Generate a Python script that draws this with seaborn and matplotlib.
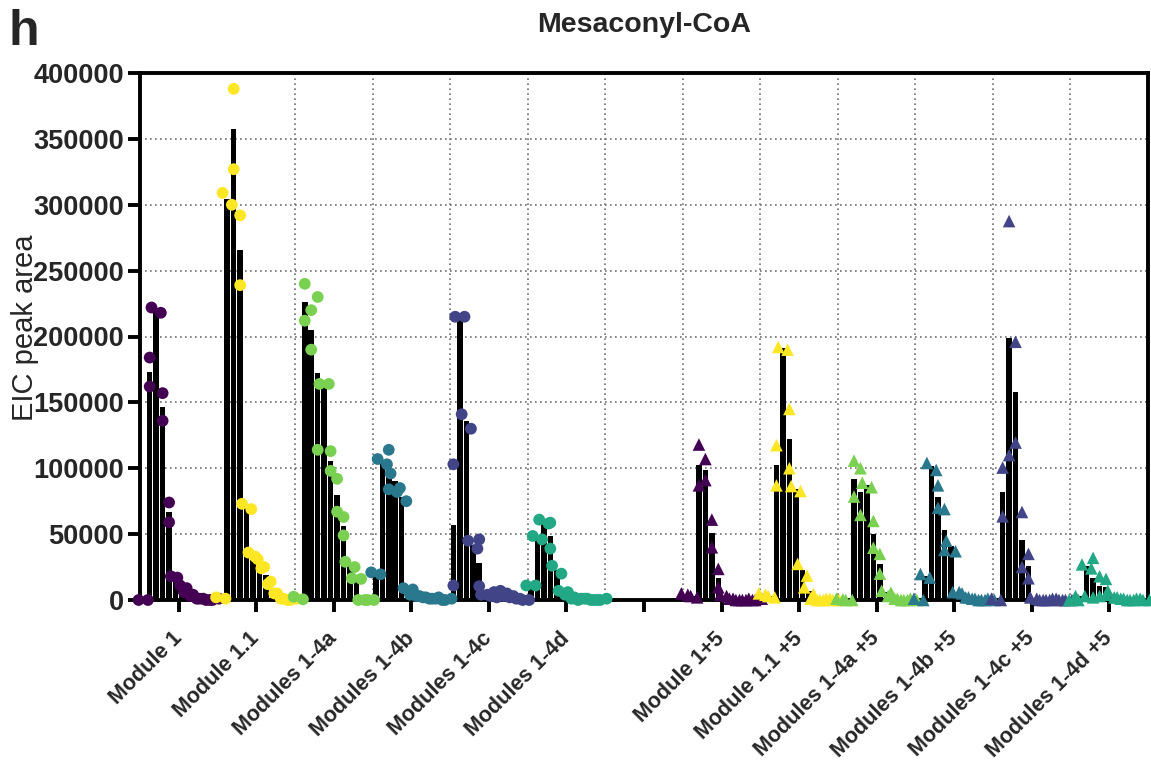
import numpy as np
import pandas as pd
import matplotlib
matplotlib.use("Agg")
import matplotlib.pyplot as plt
from matplotlib.ticker import FixedLocator
from matplotlib.transforms import ScaledTranslation
import seaborn as sns

# ---------------------------------------------------------------- data
groups = [
    "Module 1", "Module 1.1", "Modules 1-4a", "Modules 1-4b", "Modules 1-4c", "Modules 1-4d",
    "Module 1+5", "Module 1.1 +5", "Modules 1-4a +5", "Modules 1-4b +5", "Modules 1-4c +5", "Modules 1-4d +5",
]
fractions = list(range(1, 13))
yticks = [0, 50000, 100000, 150000, 200000, 250000, 300000, 350000, 400000]

# EIC peak areas per fraction, two replicate injections (a, b) per construct
module1_a = [0, 184000, 222000, 157000, 74000, 18000, 17000, 6000, 3000, 1000, 1000, 0]
module1_b = [0, 162000, 218000, 136000, 59000, 11000, 9000, 4000, 1000, 0, 0, 1000]

module11_a = [2000, 309000, 388000, 292000, 73000, 36000, 33000, 24000, 12000, 5000, 1000, 0]
module11_b = [1000, 300000, 327000, 239000, 69000, 31000, 25000, 14000, 5000, 1000, 0, 1000]

mod14a_a = [2500, 240000, 220000, 230000, 164000, 113000, 92000, 63000, 29000, 16500, 0, 0]
mod14a_b = [500, 212000, 190000, 114000, 164000, 98000, 67000, 49000, 25000, 16000, 0, 0]

mod14b_a = [21000, 107000, 114000, 96000, 82000, 9000, 4000, 3000, 2000, 1000, 1000, 0]
mod14b_b = [19500, 103000, 84000, 85000, 75000, 8000, 3000, 2000, 1000, 2000, 0, 1000]

mod14c_a = [103000, 215000, 141000, 45000, 46000, 4000, 4000, 6000, 7000, 5000, 3000, 1000]
mod14c_b = [11000, 215000, 130000, 39000, 10500, 3000, 2000, 3000, 2000, 1000, 0, 0]

mod14d_a = [11000, 48600, 61000, 58700, 26000, 7000, 4000, 1000, 0, 1000, 0, 0]
mod14d_b = [11000, 46000, 58000, 39000, 20000, 6000, 2000, 1000, 1000, 0, 0, 1000]

module1_5_a = [5000, 4000, 118000, 107000, 61000, 23600, 4000, 3000, 1000, 0, 0, 0]
module1_5_b = [3000, 2000, 87000, 91000, 40000, 9600, 1000, 0, 0, 1000, 0, 1000]

module11_5_a = [5000, 4000, 117500, 192000, 145000, 86500, 27400, 9600, 1000, 0, 0, 1000]
module11_5_b = [3000, 2000, 87000, 190000, 100000, 82700, 18500, 4600, 0, 1000, 0, 0]

mod14a_5_a = [1000, 500, 105800, 100000, 89000, 60000, 35000, 7000, 3000, 1000, 0, 0]
mod14a_5_b = [0, 0, 78500, 64600, 85600, 39700, 20000, 5600, 1000, 0, 1000, 0]

mod14b_5_a = [1000, 19700, 104000, 87000, 69000, 45000, 6000, 6000, 2000, 1000, 0, 0]
mod14b_5_b = [0, 17000, 98700, 70000, 38000, 37000, 5000, 2000, 1000, 0, 1000, 0]

mod14c_5_a = [1000, 100500, 287600, 196000, 66800, 35000, 2000, 1000, 0, 0, 1000, 0]
mod14c_5_b = [0, 63500, 110000, 119500, 25000, 16500, 0, 0, 1000, 0, 0, 0]

mod14d_5_a = [0, 3000, 27000, 32000, 18000, 16000, 7000, 2000, 1000, 0, 0, 1000]
mod14d_5_b = [0, 3000, 24000, 2000, 3000, 4000, 2000, 1000, 0, 1000, 0, 0]

replicates = [
    (module1_a, module1_b), (module11_a, module11_b), (mod14a_a, mod14a_b),
    (mod14b_a, mod14b_b), (mod14c_a, mod14c_b), (mod14d_a, mod14d_b),
    (module1_5_a, module1_5_b), (module11_5_a, module11_5_b), (mod14a_5_a, mod14a_5_b),
    (mod14b_5_a, mod14b_5_b), (mod14c_5_a, mod14c_5_b), (mod14d_5_a, mod14d_5_b),
]

# ---------------------------------------------------------------- style
viridis6 = ["#440154", "#fde725", "#7ad151", "#2a788e", "#414487", "#22a884"]
group_colors = dict(zip(groups, viridis6 + viridis6))

sns.set_theme(style="white")
plt.rcParams["font.family"] = ["Liberation Sans", "DejaVu Sans"]
plt.rcParams["xtick.bottom"] = True
plt.rcParams["ytick.left"] = True

# ---------------------------------------------------------------- layout
# Slot 6 on the categorical axis is left empty to separate the two series.
slots = [i if i < 6 else i + 1 for i in range(len(groups))]
step = 1.0 / len(fractions)
pair_dodge = 0.06           # side-by-side shift for replicates of similar value

rows = []
for name, slot, (rep_a, rep_b) in zip(groups, slots, replicates):
    for fi, frac in enumerate(fractions):
        xbar = slot + (fi - (len(fractions) - 1) / 2) * step
        a, b = rep_a[fi], rep_b[fi]
        close = abs(a - b) < 12000
        for k, v in enumerate((a, b)):
            dx = (-pair_dodge if k == 0 else pair_dodge) if close else 0.0
            rows.append(dict(group=name, fraction=frac, xbar=round(xbar, 6),
                             xpt=xbar + dx, area=v, plus5=name.endswith("5")))
df = pd.DataFrame(rows)

fig = plt.figure(figsize=(11.51, 7.65), dpi=100)
ax = fig.add_axes([140 / 1151, 1 - 600 / 765, 1008 / 1151, 527 / 765])

# mean bars
sns.barplot(data=df, x="xbar", y="area", native_scale=True, estimator="mean",
            errorbar=None, color="black", saturation=1, width=0.85,
            linewidth=0, ax=ax, zorder=2)

# replicate points: circles without module 5, triangles with it
sns.scatterplot(data=df[~df.plus5], x="xpt", y="area", hue="group",
                palette=group_colors, marker="o", s=72, linewidth=0,
                legend=False, ax=ax, zorder=4, clip_on=False)
sns.scatterplot(data=df[df.plus5], x="xpt", y="area", hue="group",
                palette=group_colors, marker="^", s=82, linewidth=0,
                legend=False, ax=ax, zorder=4, clip_on=False)

# ---------------------------------------------------------------- axes
ax.set_xlim(-0.5, 12.5)
ax.set_ylim(0, 400000)
tick_pos = list(range(len(groups) + 1))
tick_lab = groups[:6] + [""] + groups[6:]
ax.set_xticks(tick_pos)
ax.set_xticklabels(tick_lab, rotation=45, ha="right", va="center",
                   rotation_mode="anchor", fontsize=15.5, fontweight="bold")
label_shift = ScaledTranslation(-6 / 100, 0, fig.dpi_scale_trans)
for lab in ax.get_xticklabels():
    lab.set_transform(lab.get_transform() + label_shift)
ax.set_yticks(yticks)
ax.set_yticklabels([str(v) for v in yticks], fontsize=19.5, fontweight="bold")
ax.set_xlabel("")
ax.set_ylabel("")

ax.xaxis.set_minor_locator(FixedLocator([k + 0.5 for k in range(1, 12)]))
ax.set_axisbelow(True)
ax.grid(True, axis="y", which="major", linestyle=(0, (1, 2)), color="#707070", linewidth=1.2)
ax.grid(True, axis="x", which="minor", linestyle=(0, (1, 2)), color="#707070", linewidth=1.2)
ax.grid(False, axis="x", which="major")

for sp in ax.spines.values():
    sp.set_visible(True)
    sp.set_color("black")
    sp.set_linewidth(2.8)
    sp.set_zorder(3)

ax.tick_params(axis="both", which="major", direction="out", length=8.5, width=2.8,
               color="black", bottom=True, left=True)
ax.tick_params(axis="x", which="major", pad=17)
ax.tick_params(axis="y", which="major", pad=3)
ax.tick_params(axis="x", which="minor", length=0)

fig.text(644 / 1151, 1 - 25 / 765, "Mesaconyl-CoA", ha="center", va="center",
         fontsize=20.5, fontweight="bold")
fig.text(9 / 1151, 1 - 9 / 765, "h", ha="left", va="top", fontsize=36, fontweight="bold")
fig.text(25 / 1151, 1 - 328 / 765, "EIC peak area", ha="center", va="center",
         rotation=90, fontsize=21)

fig.savefig("out.png", dpi=100)
